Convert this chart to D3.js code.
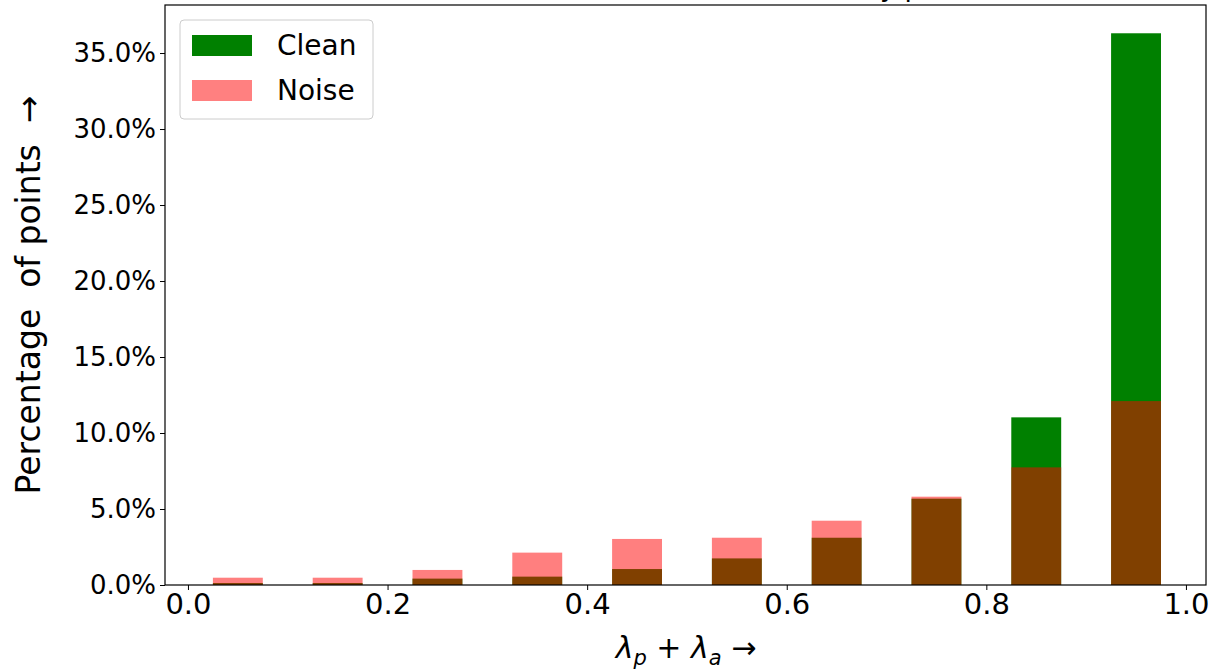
<!DOCTYPE html>
<html>
<head>
<meta charset="utf-8">
<script src="https://cdn.jsdelivr.net/npm/d3@7"></script>
<style>
  body { margin: 0; background: #fff; }
  text { font-family: "DejaVu Sans", sans-serif; fill: #000; }
</style>
</head>
<body>
<script>
// bin centres of lambda_p + lambda_a (bins of 0.1, bars drawn half width)
var binCenters = [0.05, 0.15, 0.25, 0.35, 0.45, 0.55, 0.65, 0.75, 0.85, 0.95];
// percentage of all points in each bin
var cleanPct = [0.13, 0.13, 0.42, 0.55, 1.05, 1.75, 3.11, 5.68, 11.03, 36.3];
var noisePct = [0.48, 0.48, 0.99, 2.13, 3.03, 3.11, 4.23, 5.81, 7.74, 12.1];
var xTicks = [0, 0.2, 0.4, 0.6, 0.8, 1.0];
var yTicks = [0, 5, 10, 15, 20, 25, 30, 35];
var seriesNames = ["Clean", "Noise"];

var width = 1214, height = 671;
var mLeft = 165, mRight = 1206, mTop = 5, mBottom = 585;
var barW = 0.05;

var svg = d3.select("body").append("svg")
  .attr("width", width)
  .attr("height", height);

var x = d3.scaleLinear().domain([-0.023, 1.0201]).range([mLeft, mRight]);
var y = d3.scaleLinear().domain([0, 38.16]).range([mBottom, mTop]);

// title, mostly cut off above the picture
var title = svg.append("text")
  .attr("y", -4)
  .style("font-size", "27px")
  .text("Distribution of Clean and Noisy points");
var full = title.text();
var idx = full.indexOf("y p");
title.attr("x", 880 - title.node().getSubStringLength(0, idx));

// bars: clean first, noise (red, alpha .5) on top
svg.append("g").selectAll("rect")
  .data(cleanPct)
  .enter().append("rect")
  .attr("x", function(d, i) { return x(binCenters[i] - barW / 2); })
  .attr("width", function(d, i) { return x(binCenters[i] + barW / 2) - x(binCenters[i] - barW / 2); })
  .attr("y", function(d) { return y(d); })
  .attr("height", function(d) { return y(0) - y(d); })
  .attr("fill", "green");

svg.append("g").selectAll("rect")
  .data(noisePct)
  .enter().append("rect")
  .attr("x", function(d, i) { return x(binCenters[i] - barW / 2); })
  .attr("width", function(d, i) { return x(binCenters[i] + barW / 2) - x(binCenters[i] - barW / 2); })
  .attr("y", function(d) { return y(d); })
  .attr("height", function(d) { return y(0) - y(d); })
  .attr("fill", "red")
  .attr("fill-opacity", 0.5);

// axes
var xAxis = svg.append("g")
  .attr("transform", "translate(0," + mBottom + ")")
  .call(d3.axisBottom(x).tickValues(xTicks).tickFormat(d3.format(".1f")).tickSizeOuter(0).tickSize(5));
xAxis.select(".domain").remove();
xAxis.selectAll("text").style("font-size", "29px").attr("y", 6).attr("dy", "0.8em");
xAxis.selectAll("line").attr("stroke", "#000");

var yAxis = svg.append("g")
  .attr("transform", "translate(" + mLeft + ",0)")
  .call(d3.axisLeft(y).tickValues(yTicks).tickFormat(function(d) { return d.toFixed(1) + "%"; }).tickSizeOuter(0).tickSize(5));
yAxis.select(".domain").remove();
yAxis.selectAll("text").style("font-size", "26px").attr("x", -9);
yAxis.selectAll("line").attr("stroke", "#000");

// frame
svg.append("rect")
  .attr("x", mLeft).attr("y", mTop)
  .attr("width", mRight - mLeft).attr("height", mBottom - mTop)
  .attr("fill", "none").attr("stroke", "#000").attr("stroke-width", 1.2);

// axis labels
svg.append("text")
  .attr("transform", "translate(40," + 295 + ") rotate(-90)")
  .attr("text-anchor", "middle")
  .style("font-size", "33px")
  .style("white-space", "pre")
  .attr("xml:space", "preserve")
  .text("Percentage  of points  \u2192");

var xl = svg.append("text")
  .attr("x", 686)
  .attr("y", 658)
  .attr("text-anchor", "middle")
  .style("font-size", "30px");
xl.append("tspan").style("font-style", "italic").text("\u03bb");
xl.append("tspan").style("font-style", "italic").style("font-size", "21px").attr("dy", 7).text("p");
xl.append("tspan").attr("dy", -7).text(" + ");
xl.append("tspan").style("font-style", "italic").text("\u03bb");
xl.append("tspan").style("font-style", "italic").style("font-size", "21px").attr("dy", 7).text("a");
xl.append("tspan").attr("dy", -7).text(" \u2192");

// legend
var colors = ["green", "rgb(255,128,128)"];
var lg = svg.append("g");
lg.append("rect")
  .attr("x", 180).attr("y", 20).attr("width", 193).attr("height", 99)
  .attr("rx", 4)
  .attr("fill", "#fff").attr("fill-opacity", 0.8)
  .attr("stroke", "#ccc").attr("stroke-width", 1);
lg.selectAll(".sw").data(seriesNames).enter().append("rect")
  .attr("x", 192).attr("y", function(d, i) { return 35 + i * 45; })
  .attr("width", 60).attr("height", 21)
  .attr("fill", function(d, i) { return colors[i]; });
lg.selectAll(".lt").data(seriesNames).enter().append("text")
  .attr("x", 277).attr("y", function(d, i) { return 55 + i * 45; })
  .style("font-size", "28px")
  .text(function(d) { return d; });
</script>
</body>
</html>
